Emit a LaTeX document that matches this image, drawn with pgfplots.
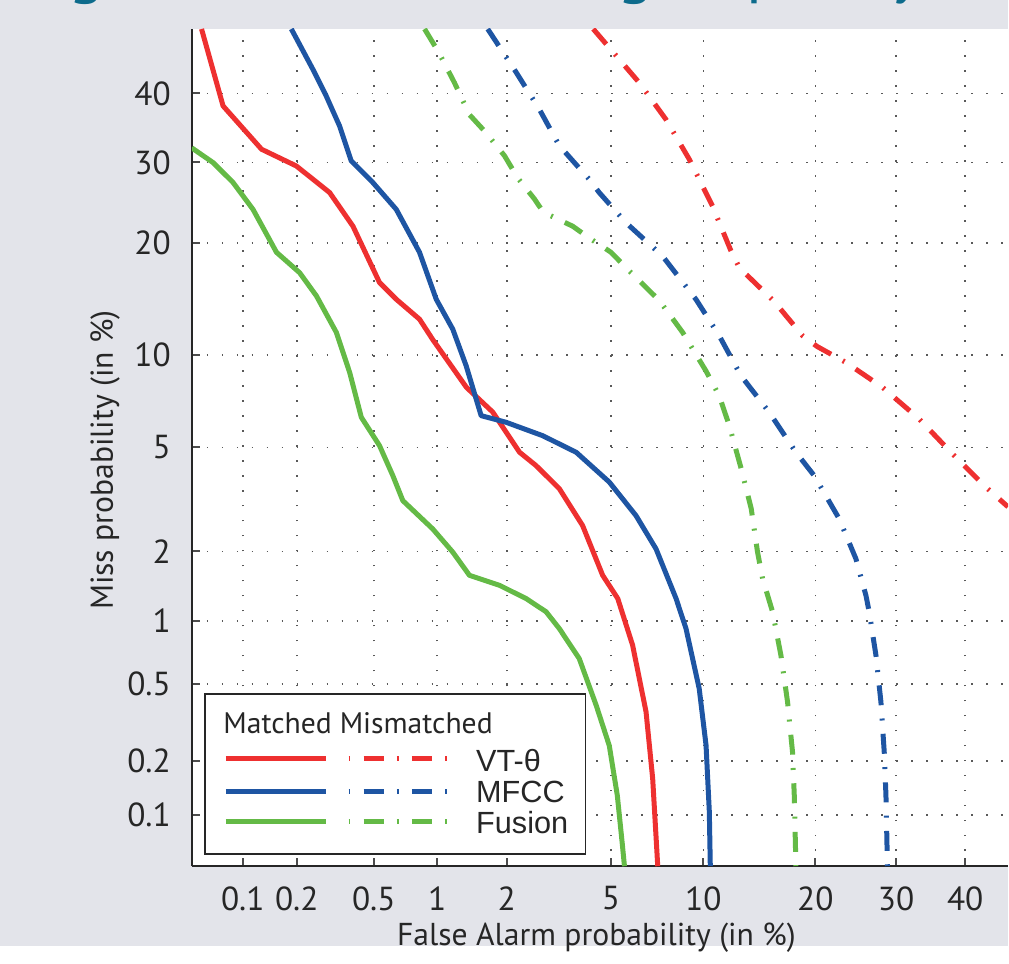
\documentclass[border=0pt]{standalone}
\usepackage{fontspec}
\setmainfont{PT Sans}
\newfontfamily\legfont{Liberation Sans}
\usepackage{pgfplots}
\pgfplotsset{compat=1.18}
\usepackage{pgfplotstable}

\definecolor{detred}{HTML}{EE3030}
\definecolor{detblue}{HTML}{1E55A3}
\definecolor{detgreen}{HTML}{64BA46}
\definecolor{slidebg}{HTML}{E3E4EA}
\definecolor{titleteal}{HTML}{0D6B8C}

% DET curves, values in percent (false alarm, miss)
\pgfplotstableread{
fa miss
0.0573 50
0.0769 38.1
0.128 31.8
0.199 29.5
0.299 26.0
0.394 21.9
0.534 15.95
0.644 14.4
0.829 12.7
0.955 11.1
1.35 7.95
1.75 6.61
2.26 4.81
2.63 4.31
3.24 3.54
3.96 2.55
4.68 1.59
5.29 1.26
5.95 0.772
6.60 0.364
6.94 0.161
7.21 0.05
}\vtMatched
\pgfplotstableread{
fa miss
0.187 50
0.244 43.7
0.287 39.6
0.337 35.1
0.386 30.2
0.495 27.3
0.644 23.9
0.829 19.0
0.990 14.4
1.175 11.9
1.346 9.28
1.563 6.43
1.99 6.11
2.79 5.50
3.75 4.81
4.94 3.75
6.11 2.79
7.12 2.05
8.25 1.26
8.86 0.922
9.72 0.477
10.19 0.244
10.42 0.105
10.49 0.05
}\mfccMatched
\pgfplotstableread{
fa miss
0.05 32.0
0.0672 29.95
0.0879 27.3
0.1145 23.9
0.155 19.0
0.2074 16.9
0.255 14.7
0.324 11.65
0.379 8.86
0.434 6.35
0.534 5.08
0.620 3.96
0.692 3.19
0.955 2.47
1.175 1.99
1.391 1.59
1.867 1.44
2.40 1.26
2.88 1.10
3.24 0.922
3.85 0.667
4.44 0.392
4.94 0.243
5.27 0.130
5.49 0.0669
5.58 0.05
}\fusMatched
\pgfplotstableread{
fa miss
4.33 50
6.27 41.6
7.66 36.1
9.07 30.4
10.65 24.3
12.04 19.15
12.71 17.4
15.79 14.2
18.62 11.4
20.2 10.6
23.52 9.50
28.16 7.95
33.2 6.27
38.07 4.75
43.15 3.59
46.6 3.02
}\vtMis
\pgfplotstableread{
fa miss
1.667 50
2.19 43.2
2.71 37.6
3.24 32.3
4.19 27.7
4.55 26.0
5.65 22.3
7.47 18.6
9.50 14.4
11.14 11.4
12.84 8.65
15.32 6.60
17.93 4.81
19.87 3.96
22.72 2.71
24.74 1.867
26.0 1.30
26.42 1.098
27.29 0.692
27.94 0.41
28.38 0.225
28.61 0.130
28.81 0.05
}\mfccMis
\pgfplotstableread{
fa miss
0.875 50
1.017 46.3
1.196 41.6
1.391 36.8
1.615 34.4
1.96 30.9
2.22 27.9
2.59 25.2
2.79 23.7
2.97 23.2
3.64 21.9
4.17 20.6
5.01 19.0
5.65 17.4
7.29 14.3
8.65 11.65
10.19 8.94
11.14 7.47
11.91 5.95
12.87 4.19
13.71 2.97
14.26 1.99
14.71 1.54
15.63 1.10
16.43 0.692
17.08 0.41
17.58 0.225
17.76 0.130
17.93 0.05
}\fusMis

\tikzset{mis/.style={dash pattern=on 6pt off 4pt on 0.6pt off 4pt}}

\begin{document}
\begin{tikzpicture}[
  % normal deviate of a percentage (Abramowitz-Stegun 26.2.23)
  declare function={
    detq(\p)=min(\p,100-\p)/100;
    dett(\p)=sqrt(-2*ln(detq(\p)));
    detz(\t)=\t-(2.515517+0.802853*\t+0.010328*\t*\t)/(1+1.432788*\t+0.189269*\t*\t+0.001308*\t*\t*\t);
    probit(\p)=ifthenelse(\p<50,-1,1)*detz(dett(\p));
  }]
\begin{scope}[x=0.3pt,y=-0.3pt,shift={(-57.6pt,260.1pt)}]
  \useasboundingbox (0,0) rectangle (1009,947);
  \fill[slidebg] (0,0) rectangle (1009,947);
  \fill[white] (192,29) rectangle (1009,867);
  \begin{scope}[every node/.style={inner sep=0pt,text=titleteal,font=\fontsize{20}{24}\selectfont}]
    \node[anchor=base east] at (528,-10) {Mismatched training environments,};
    \node[anchor=base east] at (691,-10) {high};
    \node[anchor=base west] at (727,-10) {quality};
  \end{scope}
\end{scope}

\begin{axis}[
  at={(0,0)}, anchor=south west,
  scale only axis, width=245.1pt, height=251.4pt,
  xmin=-3.2905, xmax=-0.0851, ymin=-3.2905, ymax=0,
  axis lines=left,
  axis line style={-, draw=black!85, line width=0.6pt},
  tick align=inside, major tick length=2.4pt,
  tick style={draw=black!70, line width=0.6pt},
  xtick={-3.0902,-2.8782,-2.5758,-2.3263,-2.0537,-1.6449,-1.2816,-0.8416,-0.5244,-0.2533},
  ytick={-3.0902,-2.8782,-2.5758,-2.3263,-2.0537,-1.6449,-1.2816,-0.8416,-0.5244,-0.2533},
  xticklabels={0.1,0.2,0.5,1,2,5,10,20,30,40},
  yticklabels={0.1,0.2,0.5,1,2,5,10,20,30,40},
  ticklabel style={font=\fontsize{10}{12}\selectfont, text=black!85},
  xticklabel style={yshift=-2.6pt},
  yticklabel style={xshift=-2.8pt},
  /pgf/number format/assume math mode=true,
  grid=major,
  major grid style={draw=black!65, line width=0.5pt, dash pattern=on 0.5pt off 4pt},
  xlabel={False Alarm probability (in \%)},
  ylabel={Miss probability (in \%)},
  label style={font=\fontsize{9.5}{11}\selectfont, text=black!85},
  xlabel style={at={(axis description cs:0.4957,-0.0943)}, anchor=base},
  ylabel style={at={(axis description cs:-0.0967,0.485)}, anchor=base},
  line join=round,
]
\addplot[detred, line width=1.5pt] table[x expr={probit(\thisrow{fa})}, y expr={probit(\thisrow{miss})}] {\vtMatched};
\addplot[detblue, line width=1.5pt] table[x expr={probit(\thisrow{fa})}, y expr={probit(\thisrow{miss})}] {\mfccMatched};
\addplot[detgreen, line width=1.5pt] table[x expr={probit(\thisrow{fa})}, y expr={probit(\thisrow{miss})}] {\fusMatched};
\addplot[detred, line width=1.5pt, mis] table[x expr={probit(\thisrow{fa})}, y expr={probit(\thisrow{miss})}] {\vtMis};
\addplot[detblue, line width=1.5pt, mis] table[x expr={probit(\thisrow{fa})}, y expr={probit(\thisrow{miss})}] {\mfccMis};
\addplot[detgreen, line width=1.5pt, mis] table[x expr={probit(\thisrow{fa})}, y expr={probit(\thisrow{miss})}] {\fusMis};
\end{axis}

% legend
\begin{scope}[x=0.3pt,y=-0.3pt,shift={(-57.6pt,260.1pt)}]
  \draw[black!85, line width=0.5pt, fill=white] (205,695) rectangle (586,855);
  \node[anchor=base west, inner sep=0pt, font=\fontsize{8.9}{10}\selectfont, text=black!85]
    at (223,734) {Matched Mismatched};
  \draw[detred, line width=1.6pt] (226,759) -- (326,759);
  \draw[detblue, line width=1.6pt] (226,792) -- (326,792);
  \draw[detgreen, line width=1.6pt] (226,822) -- (326,822);
  \draw[detred, line width=1.6pt, dash pattern=on 0.5pt off 4pt on 6pt off 4pt] (349,759) -- (448,759);
  \draw[detblue, line width=1.6pt, dash pattern=on 0.5pt off 4pt on 6pt off 4pt] (349,792) -- (448,792);
  \draw[detgreen, line width=1.6pt, dash pattern=on 0.5pt off 4pt on 6pt off 4pt] (349,822) -- (448,822);
  \node[anchor=base west, inner sep=0pt, font=\fontsize{9.2}{11}\selectfont\legfont, text=black!85]
    at (476,772) {VT-θ};
  \node[anchor=base west, inner sep=0pt, font=\fontsize{9.2}{11}\selectfont\legfont, text=black!85]
    at (476,803) {MFCC};
  \node[anchor=base west, inner sep=0pt, font=\fontsize{9.2}{11}\selectfont\legfont, text=black!85]
    at (476,834) {Fusion};
\end{scope}
\end{tikzpicture}
\end{document}
